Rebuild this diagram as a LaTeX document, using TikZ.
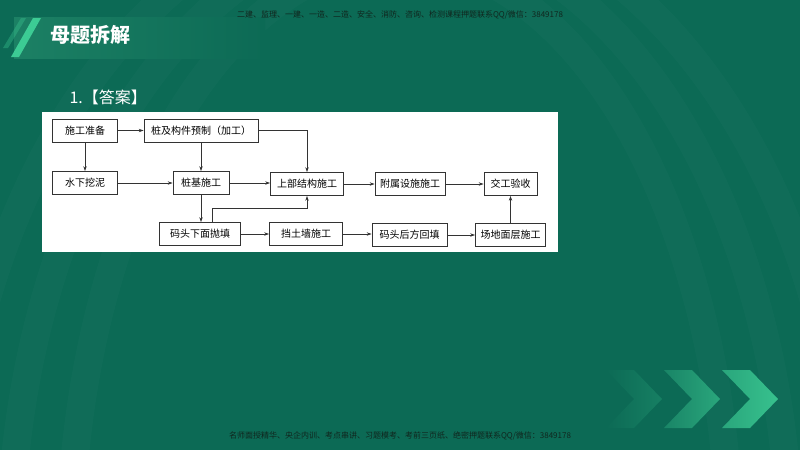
\documentclass[tikz,border=0pt]{standalone}
\usepackage{fontspec}
\setmainfont{Noto Sans CJK SC}
\usetikzlibrary{arrows.meta,positioning}
\definecolor{bggreen}{HTML}{0C6A55}
\definecolor{bannerl}{HTML}{1C8064}
\definecolor{stripe}{HTML}{3CCB94}
\definecolor{wmtext}{HTML}{10261E}
\definecolor{linegray}{HTML}{333333}
\tikzset{
  box/.style={draw=linegray,line width=0.7pt,fill=white,minimum height=23pt,inner xsep=3pt,font=\fontsize{10}{11}\selectfont},
  arr/.style={draw=linegray,line width=0.6pt,-{Stealth[length=5pt,width=3.4pt]}},
  wm/.style={text=wmtext,font=\fontsize{8}{9}\selectfont},
}
\begin{document}
\begin{tikzpicture}[x=1pt,y=-1pt]
\useasboundingbox (0,0) rectangle (800,450);
\fill[bggreen] (0,0) rectangle (800,450);
%\draw[step=50,gray,very thin] (0,0) grid (800,450); %background grid
\foreach \rx/\ry in {330/600,390/630,450/660}
  \draw[white,opacity=0.018,line width=28pt] (400,560) ellipse ({\rx} and {\ry});
%---------------------------------------------------
\shade[left color=bannerl,right color=bggreen] (14,17) rectangle (265,58);
\fill[stripe] (33,18) -- (41,18) -- (19,57) -- (11,57) -- cycle;
\fill[stripe,opacity=0.35] (21,18) -- (26,18) -- (8,48) -- (3,48) -- cycle;
\node[anchor=west,text=white,font=\fontsize{20}{20}\selectfont\bfseries] (title) at (47,35) {母题拆解};
\node[wm] (wmtop) at (400,15) {二建、监理、一建、一造、二造、安全、消防、咨询、检测课程押题联系QQ/微信：3849178};
\node[wm] (wmbot) at (400,436) {名师面授精华、央企内训、考点串讲、习题模考、考前三页纸、绝密押题联系QQ/微信：3849178};
%---------------------------------------------------
\shade[left color=bggreen,right color=stripe!22!bggreen] (606,370) -- ++(28,0) -- ++(28,29) -- ++(-28,29) -- ++(-28,0) -- ++(28,-29) -- cycle;
\shade[left color=stripe!28!bggreen,right color=stripe!62!bggreen] (664,370) -- ++(28,0) -- ++(28,29) -- ++(-28,29) -- ++(-28,0) -- ++(28,-29) -- cycle;
\shade[left color=stripe!62!bggreen,right color=stripe!90!bggreen] (722,370) -- ++(28,0) -- ++(28,29) -- ++(-28,29) -- ++(-28,0) -- ++(28,-29) -- cycle;
%---------------------------------------------------
\node[anchor=west,text=white,font=\fontsize{16}{16}\selectfont] (ans) at (66,97) {1.【答案】};
\fill[white] (42,112) rectangle (558,252);
%---------------------------------------------------
\node[box,minimum width=65pt] (sgzb) at (85,130.5) {施工准备};
\node[box,minimum width=114pt] (yzhi) at (201,130.5) {桩及构件预制（加工）};
\node[box,minimum width=65pt] (wnee) at (85,183) {水下挖泥};
\node[box,minimum width=56pt] (zjsg) at (201,183) {桩基施工};
\node[box,minimum width=73pt] (sbjg) at (307,184) {上部结构施工};
\node[box,minimum width=70pt] (fssg) at (410,184) {附属设施施工};
\node[box,minimum width=53pt] (jgys) at (510.5,184) {交工验收};
%---------------------------------------------------
\node[box,minimum width=81pt] (mtpt) at (200,234) {码头下面抛填};
\node[box,minimum width=73pt] (dtq) at (306,234) {挡土墙施工};
\node[box,minimum width=75pt] (mtht) at (409.5,235) {码头后方回填};
\node[box,minimum width=70pt] (cdmc) at (510.5,235) {场地面层施工};
%---------------------------------------------------
\draw[arr] (sgzb) -- (yzhi);
\draw[arr] (sgzb) -- (wnee);
\draw[arr] (yzhi) -- (zjsg);
\draw[arr] (yzhi.east) -| (sbjg.north);
\draw[arr] (wnee) -- (zjsg);
\draw[arr] (zjsg.east) -- (zjsg.east -| sbjg.west);
\draw[arr] (zjsg) -- (zjsg |- mtpt.north);
\draw[arr] ([xshift=12pt]mtpt.north) -- ++(0,-14) -| (sbjg.south);
\draw[arr] (sbjg) -- (fssg);
\draw[arr] (fssg) -- (jgys);
\draw[arr] (mtpt) -- (dtq);
\draw[arr] (dtq.east) -- (dtq.east -| mtht.west);
\draw[arr] (mtht) -- (cdmc);
\draw[arr] (cdmc) -- (jgys);
\end{tikzpicture}
\end{document}
